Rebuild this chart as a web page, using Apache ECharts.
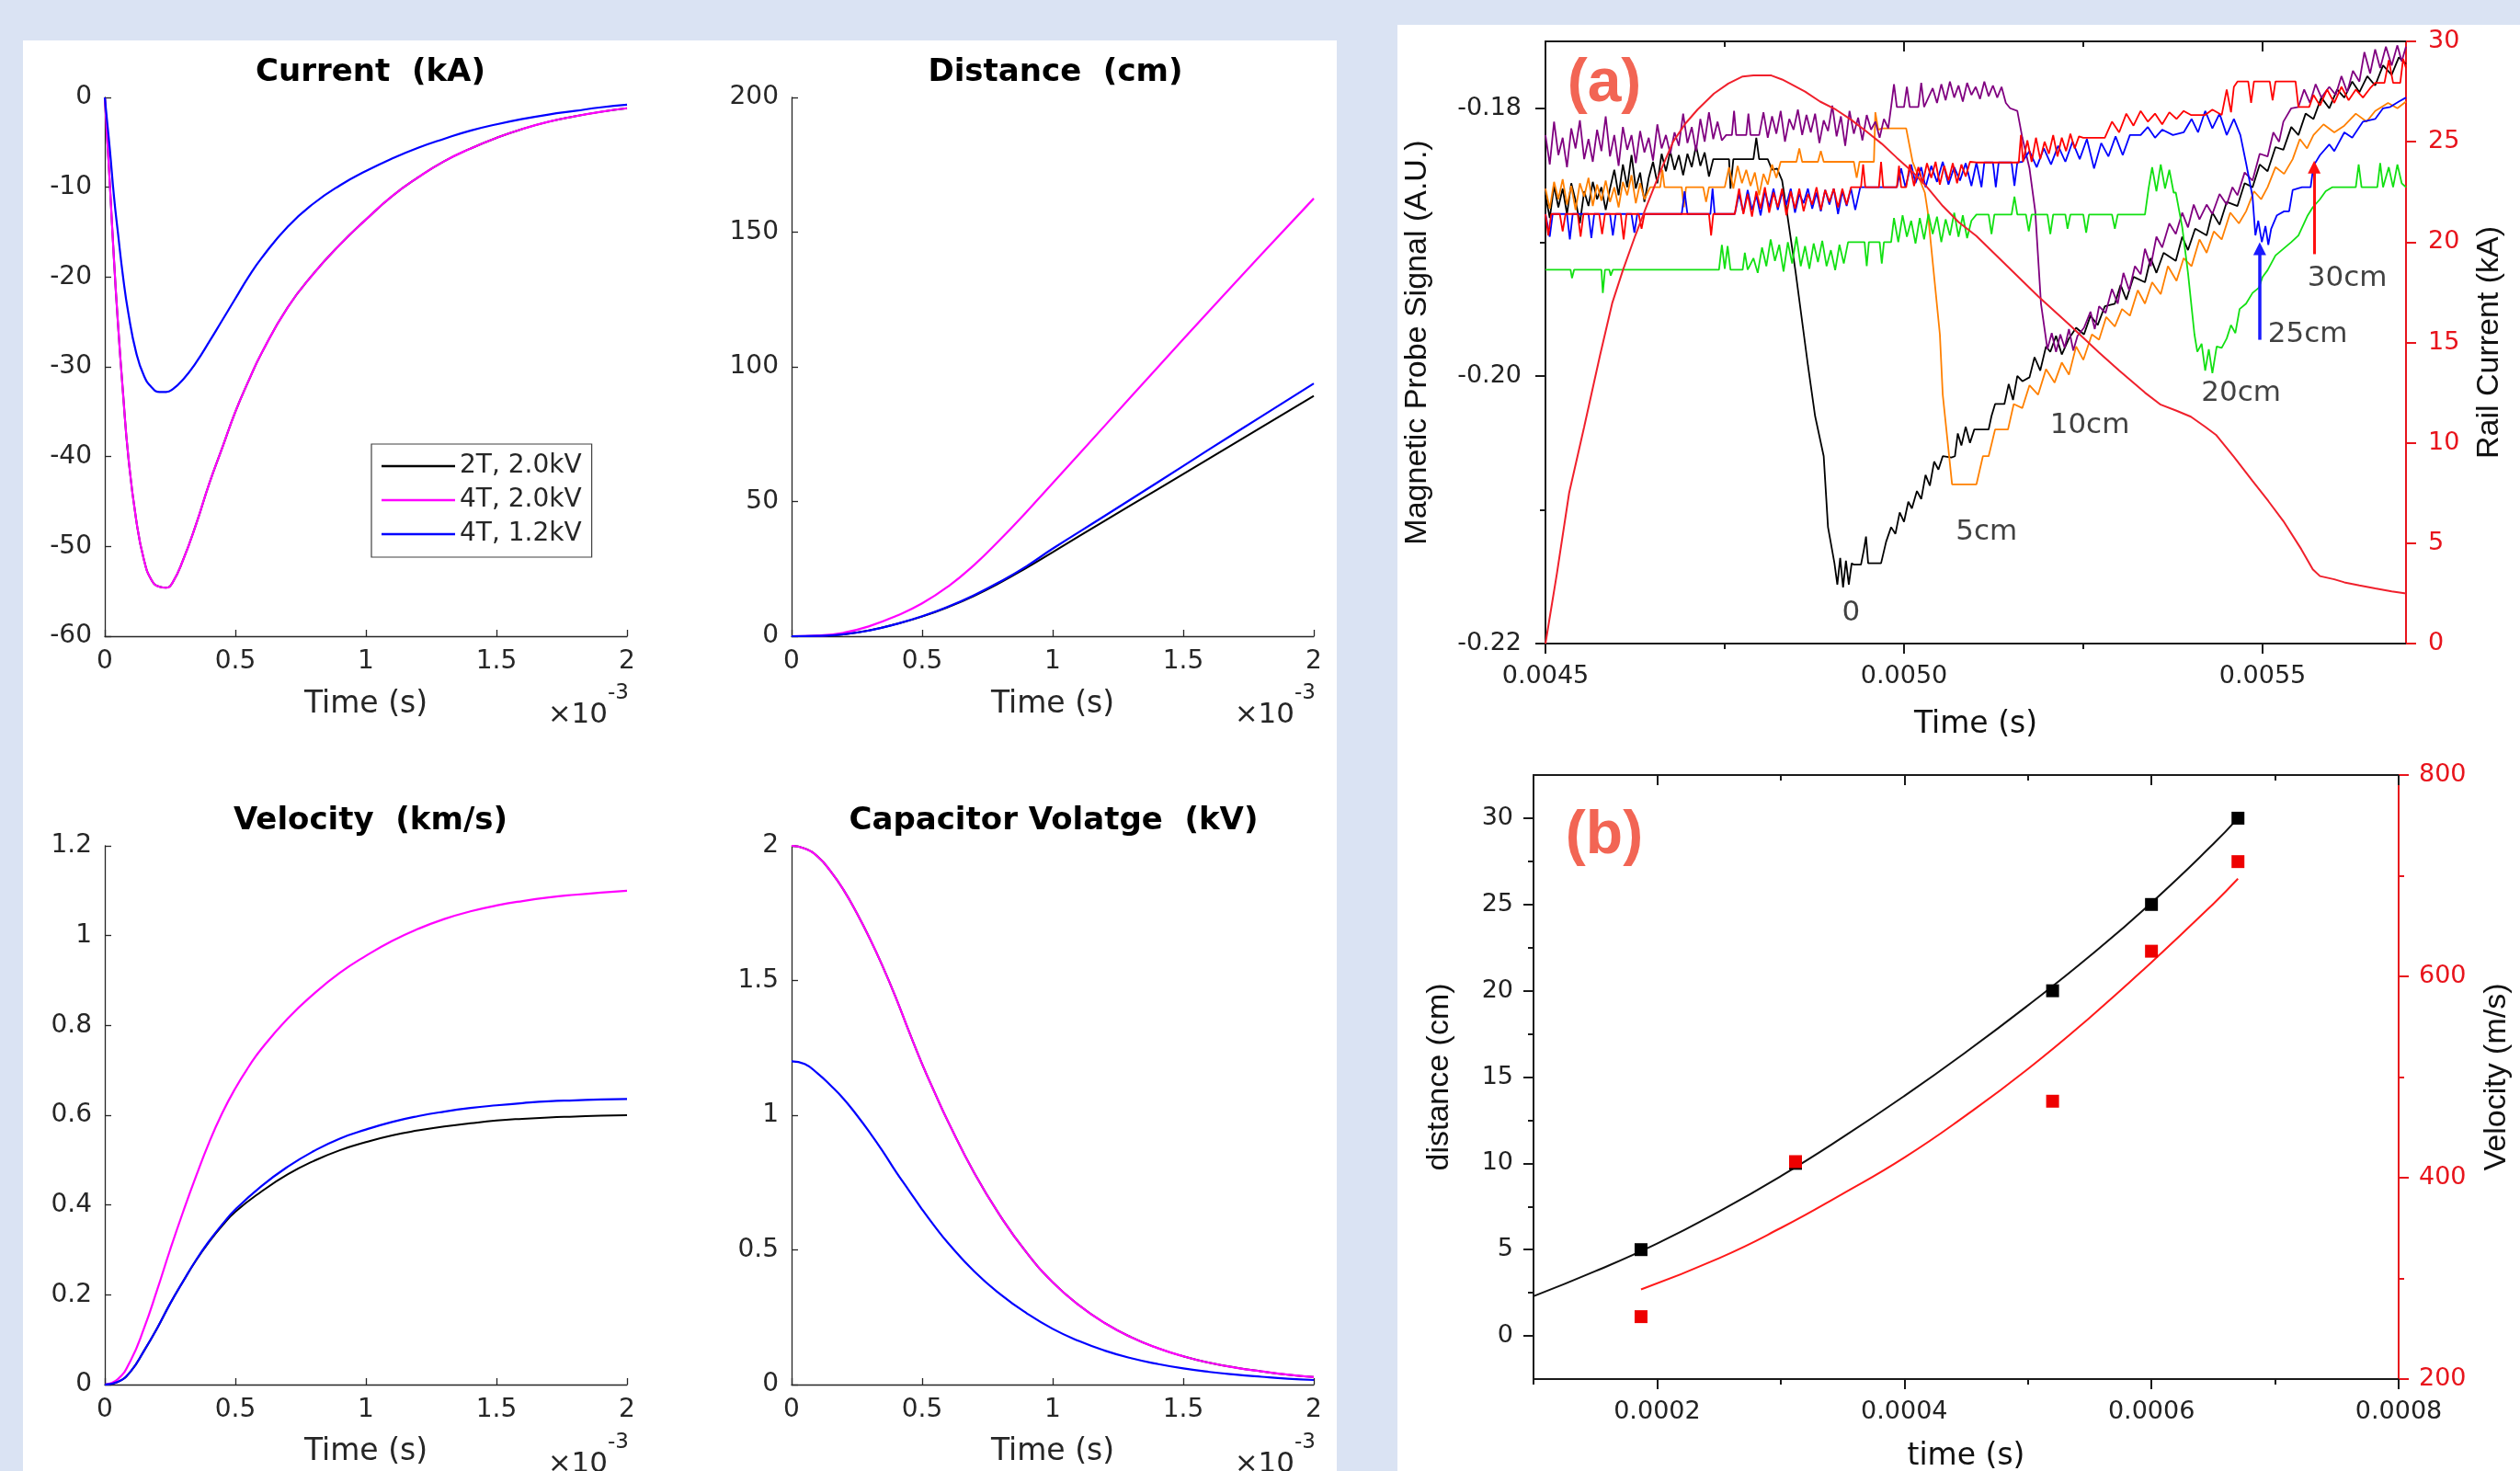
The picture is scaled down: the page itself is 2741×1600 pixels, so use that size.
<!DOCTYPE html>
<html><head><meta charset="utf-8">
<script src="https://cdn.jsdelivr.net/npm/echarts@6/dist/echarts.min.js"></script>
<style>html,body{margin:0;padding:0;background:#dae3f3;}#c{width:2741px;height:1600px;}</style>
</head><body><div id="c"></div>
<script>
// ---------------- MATLAB panels (time in ms, axis shows x10^-3 s) ----------------
const seriesNames = ['2T, 2.0kV', '4T, 2.0kV', '4T, 1.2kV'];
const mlTimeRange = [0, 2, 0.5];
const currentRange = [-60, 0, 10];
const distanceRange = [0, 200, 50];
const velocityRange = [0, 1.2, 0.2];
const voltageRange = [0, 2, 0.5];

const current4T20 = [[0,0],[0.01,-5],[0.02,-10],[0.035,-18],[0.05,-25],[0.07,-33],[0.09,-40],[0.12,-47],[0.15,-51.5],[0.18,-53.8],[0.21,-54.5],[0.235,-54.6],[0.26,-54],[0.3,-51.5],[0.35,-47.5],[0.4,-43],[0.45,-39],[0.5,-35],[0.55,-31.6],[0.6,-28.5],[0.7,-23.4],[0.8,-19.6],[0.9,-16.4],[1.0,-13.6],[1.1,-11.0],[1.2,-8.9],[1.3,-7.1],[1.4,-5.7],[1.5,-4.5],[1.6,-3.5],[1.7,-2.7],[1.8,-2.1],[1.9,-1.6],[2.0,-1.2]];
const current2T20 = [[0,0],[0.01,-5],[0.02,-10],[0.035,-18],[0.05,-25],[0.07,-33],[0.09,-40],[0.12,-47],[0.15,-51.5],[0.18,-53.8],[0.21,-54.5],[0.235,-54.6],[0.26,-54],[0.3,-51.5],[0.35,-47.5],[0.4,-43],[0.45,-39],[0.5,-35],[0.55,-31.6],[0.6,-28.5],[0.7,-23.4],[0.8,-19.6],[0.9,-16.4],[1.0,-13.6],[1.1,-11.0],[1.2,-8.9],[1.3,-7.1],[1.4,-5.7],[1.5,-4.5],[1.6,-3.5],[1.7,-2.7],[1.8,-2.1],[1.9,-1.6],[2.0,-1.2]];
const current4T12 = [[0,0],[0.01,-3],[0.02,-6],[0.035,-11],[0.05,-15],[0.07,-20],[0.09,-24],[0.12,-28.4],[0.15,-31],[0.18,-32.3],[0.21,-32.8],[0.235,-32.8],[0.26,-32.5],[0.3,-31.4],[0.35,-29.5],[0.4,-27.2],[0.45,-24.8],[0.5,-22.4],[0.55,-20.0],[0.6,-17.9],[0.7,-14.4],[0.8,-11.8],[0.9,-9.8],[1.0,-8.2],[1.1,-6.8],[1.2,-5.6],[1.3,-4.6],[1.4,-3.7],[1.5,-3.0],[1.6,-2.4],[1.7,-1.9],[1.8,-1.5],[1.9,-1.1],[2.0,-0.8]];

const distance2T20 = [[0,0],[0.1,0.1],[0.2,0.7],[0.3,2.2],[0.4,4.5],[0.5,7.3],[0.6,10.8],[0.7,15.0],[0.8,19.9],[0.9,25.4],[1.0,31.2],[1.2,42.9],[1.4,54.4],[1.6,66.0],[1.8,77.6],[2.0,89.2]];
const distance4T20 = [[0,0],[0.1,0.2],[0.2,1.3],[0.3,3.8],[0.4,7.5],[0.5,12.2],[0.6,18.5],[0.7,26.5],[0.8,36],[0.9,46.2],[1.0,56.8],[1.2,78.2],[1.4,99.6],[1.6,120.8],[1.8,141.8],[2.0,162.5]];
const distance4T12 = [[0,0],[0.1,0.1],[0.2,0.7],[0.3,2.2],[0.4,4.5],[0.5,7.4],[0.6,11.0],[0.7,15.3],[0.8,20.3],[0.9,26.0],[1.0,32.5],[1.2,44.7],[1.4,57.0],[1.6,69.4],[1.8,81.6],[2.0,93.8]];

const velocity2T20 = [[0,0],[0.05,0.006],[0.1,0.03],[0.15,0.075],[0.2,0.125],[0.25,0.18],[0.3,0.23],[0.35,0.277],[0.4,0.318],[0.45,0.354],[0.5,0.385],[0.6,0.43],[0.7,0.468],[0.8,0.498],[0.9,0.522],[1.0,0.54],[1.1,0.555],[1.2,0.566],[1.3,0.575],[1.4,0.582],[1.5,0.588],[1.6,0.592],[1.7,0.595],[1.8,0.597],[1.9,0.599],[2.0,0.6]];
const velocity4T20 = [[0,0],[0.05,0.012],[0.1,0.055],[0.15,0.125],[0.2,0.21],[0.25,0.3],[0.3,0.385],[0.35,0.465],[0.4,0.54],[0.45,0.605],[0.5,0.66],[0.55,0.707],[0.6,0.748],[0.7,0.815],[0.8,0.87],[0.9,0.917],[1.0,0.955],[1.1,0.988],[1.2,1.015],[1.3,1.037],[1.4,1.054],[1.5,1.067],[1.6,1.077],[1.7,1.085],[1.8,1.091],[1.9,1.096],[2.0,1.1]];
const velocity4T12 = [[0,0],[0.05,0.006],[0.1,0.03],[0.15,0.075],[0.2,0.125],[0.25,0.18],[0.3,0.23],[0.35,0.278],[0.4,0.32],[0.45,0.357],[0.5,0.39],[0.6,0.442],[0.7,0.485],[0.8,0.52],[0.9,0.548],[1.0,0.568],[1.1,0.585],[1.2,0.598],[1.3,0.608],[1.4,0.616],[1.5,0.622],[1.6,0.627],[1.7,0.631],[1.8,0.633],[1.9,0.635],[2.0,0.636]];

const voltage2T20 = [[0,2],[0.05,1.99],[0.1,1.96],[0.15,1.905],[0.2,1.835],[0.25,1.75],[0.3,1.655],[0.35,1.55],[0.4,1.435],[0.45,1.31],[0.5,1.19],[0.55,1.08],[0.6,0.975],[0.7,0.785],[0.8,0.625],[0.9,0.49],[1.0,0.38],[1.1,0.295],[1.2,0.228],[1.3,0.176],[1.4,0.136],[1.5,0.105],[1.6,0.081],[1.7,0.063],[1.8,0.049],[1.9,0.037],[2.0,0.028]];
const voltage4T20 = [[0,2],[0.05,1.99],[0.1,1.96],[0.15,1.905],[0.2,1.835],[0.25,1.75],[0.3,1.655],[0.35,1.55],[0.4,1.435],[0.45,1.31],[0.5,1.19],[0.55,1.08],[0.6,0.975],[0.7,0.785],[0.8,0.625],[0.9,0.49],[1.0,0.38],[1.1,0.295],[1.2,0.228],[1.3,0.176],[1.4,0.136],[1.5,0.105],[1.6,0.081],[1.7,0.063],[1.8,0.049],[1.9,0.037],[2.0,0.028]];
const voltage4T12 = [[0,1.2],[0.05,1.19],[0.1,1.155],[0.15,1.11],[0.2,1.06],[0.25,1.0],[0.3,0.935],[0.35,0.865],[0.4,0.79],[0.45,0.72],[0.5,0.65],[0.55,0.585],[0.6,0.525],[0.7,0.42],[0.8,0.335],[0.9,0.265],[1.0,0.207],[1.1,0.162],[1.2,0.126],[1.3,0.098],[1.4,0.077],[1.5,0.06],[1.6,0.047],[1.7,0.037],[1.8,0.029],[1.9,0.022],[2.0,0.017]];

// ---------------- Panel (a): [time in microseconds, probe signal in 1e-3 A.U.] ----------------
const aTimeTicks = [0.0045, 0.0050, 0.0055];
const aTimeMinor = [0.00475, 0.00525];
const aSignalTicks = [-0.22, -0.20, -0.18];
const aSignalMinor = [-0.21, -0.19];
const aCurrentTicks = [0, 5, 10, 15, 20, 25, 30];

const probePurple = [[4500,-182.0],[4506,-184.2],[4512,-181.0],[4518,-183.5],[4524,-182.2],[4530,-184.4],[4536,-181.5],[4542,-183.0],[4548,-180.9],[4554,-183.8],[4560,-182.3],[4566,-184.0],[4572,-181.6],[4578,-183.2],[4584,-180.6],[4590,-183.6],[4596,-182.0],[4602,-184.3],[4608,-181.4],[4614,-183.1],[4620,-182.0],[4626,-184.1],[4632,-181.7],[4638,-183.3],[4644,-182.2],[4650,-183.9],[4656,-181.2],[4662,-183.0],[4668,-182.0],[4674,-183.4],[4680,-181.8],[4686,-182.8],[4692,-180.4],[4698,-182.6],[4704,-181.4],[4710,-183.2],[4716,-180.8],[4722,-182.5],[4728,-180.3],[4734,-182.3],[4740,-181.0],[4746,-182.4],[4752,-182.0],[4760,-182.0],[4763,-180.2],[4766,-182.0],[4780,-182.0],[4783,-180.4],[4786,-182.0],[4798,-182.0],[4804,-180.3],[4810,-182.2],[4816,-180.6],[4822,-181.9],[4828,-180.2],[4834,-182.5],[4840,-180.8],[4846,-181.6],[4852,-180.1],[4858,-182.0],[4864,-180.5],[4870,-181.8],[4876,-180.4],[4882,-182.6],[4888,-180.9],[4894,-181.7],[4900,-179.8],[4906,-182.1],[4912,-180.6],[4918,-182.8],[4924,-180.2],[4930,-181.9],[4936,-180.7],[4942,-182.4],[4948,-180.5],[4954,-181.6],[4960,-181.0],[4966,-182.2],[4972,-180.8],[4978,-181.5],[4982,-179.9],[4986,-178.2],[4990,-179.9],[5000,-179.9],[5004,-178.4],[5008,-179.9],[5020,-179.9],[5024,-178.1],[5028,-179.9],[5040,-178.5],[5046,-179.6],[5052,-178.2],[5058,-179.4],[5064,-178.0],[5070,-179.2],[5076,-178.3],[5082,-179.5],[5088,-178.1],[5094,-179.0],[5100,-178.4],[5106,-179.3],[5112,-178.0],[5118,-179.1],[5124,-178.3],[5130,-179.2],[5136,-178.4],[5142,-179.6],[5148,-180.0],[5158,-180.2],[5165,-182.2],[5175,-184.5],[5183,-187.7],[5191,-194.6],[5200,-198.0],[5206,-196.8],[5212,-198.2],[5218,-196.9],[5224,-197.9],[5230,-196.5],[5236,-198.1],[5242,-197.0],[5251,-196.4],[5260,-195.2],[5266,-196.5],[5272,-194.8],[5281,-195.3],[5290,-193.5],[5298,-194.6],[5306,-192.3],[5314,-193.6],[5322,-191.8],[5330,-192.4],[5336,-190.5],[5344,-191.8],[5352,-189.6],[5360,-190.4],[5370,-188.6],[5379,-189.4],[5388,-187.8],[5396,-188.9],[5404,-187.2],[5412,-188.3],[5422,-187.2],[5430,-187.9],[5440,-186.4],[5450,-187.2],[5458,-185.9],[5465,-186.5],[5475,-184.8],[5486,-185.4],[5496,-183.4],[5507,-183.6],[5515,-181.8],[5523,-182.5],[5529,-181.0],[5540,-180.0],[5550,-179.9],[5558,-178.6],[5566,-179.6],[5574,-178.2],[5582,-179.2],[5593,-178.4],[5602,-179.0],[5610,-177.6],[5618,-178.8],[5626,-177.2],[5635,-178.0],[5642,-175.8],[5650,-177.4],[5657,-175.6],[5664,-177.0],[5672,-175.4],[5680,-176.8],[5688,-175.3],[5694,-176.5],[5700,-175.4]];

const probeBlack = [[4500,-186.5],[4506,-188.2],[4512,-185.8],[4518,-187.4],[4524,-186.0],[4530,-187.9],[4536,-185.6],[4542,-186.9],[4548,-188.6],[4554,-186.2],[4560,-187.3],[4566,-185.5],[4572,-186.8],[4578,-185.9],[4584,-187.6],[4590,-186.0],[4596,-184.6],[4602,-186.5],[4608,-184.2],[4614,-185.9],[4620,-183.5],[4626,-186.0],[4632,-184.8],[4638,-187.0],[4644,-185.2],[4650,-184.0],[4656,-185.6],[4662,-183.4],[4668,-184.7],[4674,-183.2],[4680,-184.6],[4686,-183.5],[4692,-185.0],[4698,-183.4],[4704,-184.4],[4710,-182.8],[4716,-184.3],[4722,-183.3],[4728,-185.1],[4734,-183.8],[4738,-183.8],[4756,-183.8],[4758,-186.0],[4762,-183.8],[4790,-183.8],[4794,-182.2],[4798,-183.8],[4810,-183.8],[4816,-184.6],[4823,-184.5],[4830,-185.4],[4836,-187.5],[4849,-192.3],[4866,-199.2],[4876,-203.0],[4888,-206.0],[4894,-211.3],[4903,-214.0],[4907,-215.6],[4911,-213.6],[4915,-215.8],[4919,-213.8],[4923,-215.6],[4927,-214.0],[4930,-214.1],[4940,-214.1],[4944,-213.0],[4947,-212.0],[4950,-214.0],[4968,-214.0],[4975,-212.4],[4982,-211.3],[4988,-211.8],[4994,-210.2],[5000,-210.9],[5006,-209.4],[5011,-209.9],[5018,-208.6],[5024,-209.2],[5030,-207.4],[5036,-208.2],[5042,-206.4],[5048,-207.0],[5054,-206.0],[5066,-206.1],[5071,-206.0],[5075,-204.3],[5080,-205.2],[5086,-203.8],[5092,-205.0],[5098,-204.0],[5118,-204.0],[5122,-203.0],[5127,-202.1],[5140,-202.1],[5146,-200.6],[5152,-201.8],[5158,-200.0],[5165,-200.4],[5175,-200.1],[5182,-198.6],[5190,-199.6],[5198,-197.8],[5204,-198.2],[5212,-197.0],[5220,-198.4],[5230,-197.2],[5240,-196.4],[5251,-196.9],[5260,-195.5],[5270,-196.2],[5280,-194.8],[5294,-194.6],[5302,-193.2],[5310,-194.3],[5320,-192.6],[5336,-193.0],[5344,-191.2],[5352,-192.3],[5362,-190.8],[5379,-191.4],[5388,-189.6],[5396,-190.6],[5406,-189.0],[5422,-189.5],[5430,-187.8],[5440,-188.7],[5450,-187.0],[5465,-187.3],[5475,-185.6],[5486,-185.9],[5496,-184.2],[5507,-184.7],[5518,-182.9],[5529,-183.1],[5540,-181.4],[5550,-182.0],[5560,-180.4],[5571,-180.8],[5582,-179.2],[5593,-180.0],[5604,-178.6],[5614,-179.2],[5625,-178.0],[5635,-178.8],[5646,-177.6],[5657,-178.3],[5668,-176.8],[5680,-177.5],[5690,-176.2],[5700,-176.7]];

const probeOrange = [[4500,-186.0],[4506,-187.5],[4512,-185.5],[4518,-186.8],[4524,-185.3],[4530,-187.2],[4536,-185.8],[4542,-187.6],[4548,-185.6],[4554,-186.6],[4560,-185.2],[4566,-187.3],[4572,-185.7],[4578,-186.9],[4584,-185.4],[4590,-187.0],[4596,-185.9],[4602,-187.4],[4608,-185.5],[4614,-186.5],[4620,-185.0],[4626,-187.1],[4632,-185.6],[4638,-186.8],[4646,-185.9],[4660,-185.9],[4663,-184.6],[4666,-185.9],[4690,-185.9],[4693,-187.4],[4696,-185.9],[4720,-185.9],[4724,-187.0],[4728,-185.9],[4750,-185.9],[4756,-184.4],[4762,-186.0],[4768,-184.3],[4774,-185.6],[4780,-184.6],[4786,-185.8],[4792,-184.8],[4798,-186.5],[4804,-184.9],[4810,-185.7],[4816,-184.2],[4822,-185.2],[4828,-184.0],[4850,-184.0],[4854,-183.0],[4858,-184.0],[4880,-184.0],[4884,-183.2],[4888,-184.0],[4930,-184.0],[4934,-185.2],[4938,-184.0],[4958,-184.0],[4960,-180.3],[4964,-181.6],[4969,-181.5],[5003,-181.5],[5012,-184.0],[5029,-186.3],[5033,-187.7],[5050,-196.9],[5054,-201.4],[5067,-208.1],[5101,-208.1],[5110,-206.0],[5118,-206.0],[5127,-204.0],[5145,-204.0],[5153,-202.1],[5165,-202.4],[5175,-200.7],[5187,-201.4],[5198,-199.5],[5210,-200.5],[5220,-199.0],[5230,-199.9],[5240,-197.8],[5250,-198.8],[5262,-196.9],[5272,-197.3],[5282,-195.6],[5294,-196.3],[5304,-195.0],[5315,-195.5],[5326,-193.6],[5336,-194.6],[5346,-193.0],[5358,-193.9],[5368,-191.8],[5380,-192.9],[5390,-191.2],[5401,-191.8],[5412,-189.8],[5422,-190.8],[5432,-189.2],[5443,-189.8],[5455,-187.8],[5467,-188.6],[5477,-187.7],[5488,-186.2],[5498,-186.8],[5507,-185.9],[5518,-184.4],[5530,-184.9],[5542,-183.8],[5552,-182.3],[5562,-183.0],[5571,-182.0],[5585,-181.2],[5600,-181.8],[5614,-181.3],[5630,-180.4],[5645,-181.0],[5657,-180.2],[5675,-179.6],[5688,-180.0],[5700,-179.5]];

const probeBlue = [[4500,-187.9],[4506,-189.6],[4510,-187.9],[4530,-187.9],[4534,-189.8],[4538,-187.9],[4560,-187.9],[4564,-189.7],[4568,-187.9],[4590,-187.9],[4594,-189.5],[4598,-187.9],[4620,-187.9],[4624,-189.3],[4628,-187.9],[4690,-187.9],[4694,-186.2],[4698,-187.9],[4730,-187.9],[4733,-186.0],[4736,-187.9],[4764,-187.9],[4770,-186.4],[4776,-187.8],[4782,-186.1],[4788,-187.6],[4794,-186.5],[4800,-188.0],[4806,-186.2],[4812,-187.4],[4818,-186.0],[4824,-187.6],[4830,-186.3],[4836,-187.2],[4842,-186.0],[4848,-187.8],[4854,-186.4],[4860,-187.1],[4866,-186.0],[4872,-187.5],[4878,-186.3],[4884,-187.7],[4890,-186.1],[4896,-187.2],[4902,-186.0],[4908,-187.9],[4914,-186.2],[4920,-187.3],[4926,-186.0],[4932,-187.6],[4939,-185.9],[4990,-185.9],[4996,-184.5],[5002,-185.9],[5010,-184.2],[5016,-185.6],[5024,-184.4],[5030,-185.9],[5038,-184.3],[5046,-185.5],[5054,-184.0],[5062,-185.7],[5070,-184.4],[5078,-185.4],[5086,-184.1],[5094,-185.8],[5101,-184.05],[5108,-185.9],[5112,-184.05],[5124,-184.05],[5128,-185.9],[5132,-184.05],[5150,-184.05],[5154,-185.8],[5158,-184.05],[5165,-184.0],[5175,-183.2],[5185,-184.4],[5195,-183.0],[5205,-184.2],[5215,-182.8],[5225,-184.0],[5235,-182.5],[5245,-183.8],[5255,-182.3],[5265,-184.5],[5275,-182.6],[5285,-183.6],[5295,-182.1],[5305,-183.5],[5315,-182.0],[5330,-182.0],[5340,-181.4],[5350,-182.2],[5360,-181.6],[5375,-182.0],[5390,-181.8],[5401,-180.8],[5410,-181.8],[5420,-180.2],[5430,-181.5],[5440,-180.4],[5450,-182.0],[5460,-180.8],[5469,-182.0],[5477,-184.1],[5486,-186.6],[5490,-189.5],[5494,-188.4],[5499,-190.0],[5504,-188.8],[5508,-190.2],[5512,-189.0],[5520,-188.0],[5530,-187.7],[5537,-187.7],[5542,-186.1],[5555,-185.9],[5567,-185.9],[5571,-184.3],[5580,-183.5],[5593,-182.7],[5600,-183.2],[5614,-181.8],[5625,-182.2],[5640,-181.0],[5657,-180.8],[5668,-180.0],[5678,-179.9],[5690,-179.5],[5700,-179.2]];

const probeRed = [[4500,-187.9],[4504,-189.5],[4508,-187.9],[4520,-187.9],[4524,-189.2],[4528,-187.9],[4545,-187.9],[4549,-189.6],[4553,-187.9],[4575,-187.9],[4579,-189.4],[4583,-187.9],[4605,-187.9],[4609,-189.8],[4613,-187.9],[4630,-187.9],[4634,-189.0],[4638,-187.9],[4728,-187.9],[4731,-189.5],[4734,-187.9],[4764,-187.9],[4770,-186.0],[4776,-187.9],[4782,-186.4],[4788,-188.1],[4794,-186.2],[4800,-187.5],[4806,-185.9],[4812,-187.8],[4818,-186.3],[4824,-187.4],[4830,-186.0],[4836,-188.0],[4842,-186.2],[4848,-187.5],[4854,-186.0],[4860,-187.7],[4866,-186.4],[4872,-187.2],[4878,-185.9],[4884,-187.6],[4890,-186.1],[4896,-187.0],[4902,-186.0],[4908,-187.4],[4914,-186.0],[4920,-187.2],[4926,-185.9],[4940,-185.9],[4943,-184.2],[4946,-185.9],[4965,-185.9],[4968,-184.0],[4971,-185.9],[4990,-185.9],[4993,-184.3],[4996,-185.9],[5003,-185.9],[5008,-184.2],[5014,-185.8],[5020,-184.4],[5026,-185.6],[5032,-184.1],[5038,-185.2],[5044,-184.0],[5050,-185.7],[5056,-184.3],[5062,-185.4],[5068,-184.1],[5074,-185.6],[5080,-184.2],[5086,-185.1],[5092,-184.0],[5101,-184.05],[5160,-184.05],[5163,-182.0],[5166,-184.0],[5172,-182.4],[5178,-184.0],[5184,-182.2],[5190,-183.8],[5196,-182.5],[5202,-183.4],[5208,-182.0],[5214,-183.6],[5220,-182.2],[5226,-183.2],[5232,-181.9],[5238,-183.0],[5244,-182.1],[5250,-182.2],[5280,-182.2],[5290,-181.0],[5300,-181.8],[5310,-180.4],[5320,-181.3],[5330,-180.2],[5340,-181.0],[5350,-180.4],[5360,-181.2],[5370,-180.3],[5380,-180.8],[5390,-180.2],[5400,-180.5],[5420,-180.5],[5430,-180.1],[5443,-180.5],[5450,-178.6],[5456,-180.3],[5460,-178.4],[5465,-178.0],[5480,-178.0],[5484,-179.6],[5488,-178.0],[5510,-178.0],[5514,-179.4],[5518,-178.0],[5546,-178.0],[5550,-179.9],[5565,-179.9],[5571,-179.0],[5580,-179.8],[5590,-178.6],[5600,-179.6],[5610,-178.4],[5620,-179.4],[5630,-178.6],[5640,-179.2],[5650,-178.5],[5657,-178.1],[5670,-178.1],[5676,-176.4],[5682,-178.1],[5692,-178.1],[5696,-176.3],[5700,-177.0]];

const probeGreen = [[4500,-192.06],[4535,-192.06],[4537,-192.7],[4540,-192.06],[4578,-192.06],[4580,-193.8],[4583,-192.06],[4589,-192.06],[4591,-192.5],[4594,-192.06],[4742,-192.06],[4746,-190.2],[4750,-192.0],[4754,-190.3],[4758,-192.06],[4775,-192.06],[4778,-190.8],[4782,-192.06],[4790,-191.2],[4796,-192.3],[4802,-190.4],[4808,-191.8],[4814,-189.8],[4820,-191.4],[4826,-190.2],[4832,-192.2],[4838,-190.0],[4844,-191.6],[4850,-189.6],[4856,-191.8],[4862,-190.3],[4868,-192.0],[4874,-190.1],[4880,-191.5],[4886,-189.9],[4892,-191.8],[4898,-190.6],[4904,-192.1],[4910,-190.2],[4916,-191.6],[4922,-190.0],[4926,-190.0],[4945,-190.0],[4948,-191.8],[4951,-190.0],[4966,-190.0],[4969,-191.6],[4972,-190.0],[4982,-190.0],[4986,-188.2],[4992,-190.0],[4998,-188.0],[5004,-189.6],[5010,-188.4],[5016,-190.1],[5022,-188.2],[5028,-189.8],[5034,-187.9],[5040,-189.4],[5046,-188.1],[5052,-190.0],[5058,-188.3],[5064,-189.5],[5070,-187.8],[5076,-189.6],[5082,-188.0],[5088,-189.7],[5094,-188.4],[5101,-187.94],[5118,-187.94],[5122,-189.4],[5126,-187.94],[5150,-187.94],[5154,-186.6],[5158,-187.94],[5170,-187.94],[5174,-189.2],[5178,-187.94],[5200,-187.94],[5204,-189.4],[5208,-187.94],[5225,-187.94],[5228,-189.0],[5232,-187.94],[5250,-187.94],[5254,-189.3],[5258,-187.94],[5290,-187.94],[5294,-189.0],[5298,-187.94],[5336,-187.94],[5341,-186.0],[5346,-184.4],[5352,-186.2],[5358,-184.2],[5364,-186.0],[5370,-184.6],[5376,-186.3],[5379,-186.3],[5388,-188.9],[5396,-192.3],[5405,-196.9],[5409,-198.2],[5415,-197.6],[5420,-199.6],[5425,-198.0],[5430,-199.8],[5436,-197.8],[5443,-197.9],[5450,-197.2],[5456,-196.2],[5462,-196.8],[5468,-195.0],[5477,-194.6],[5486,-193.8],[5495,-193.4],[5500,-192.6],[5507,-192.1],[5518,-191.0],[5529,-190.5],[5540,-190.0],[5550,-189.5],[5563,-188.0],[5570,-187.4],[5580,-186.8],[5588,-186.2],[5597,-185.9],[5630,-185.9],[5634,-184.2],[5638,-185.9],[5660,-185.9],[5664,-184.1],[5668,-185.9],[5676,-184.4],[5682,-185.9],[5688,-184.2],[5694,-185.6],[5700,-185.9]];

// rail current: [time in microseconds, kA]
const railCurrent = [[4500,0],[4516,3.5],[4533,7.5],[4554,10.8],[4576,14.35],[4593,16.95],[4608,18.6],[4625,20.3],[4640,21.7],[4660,23.5],[4678,25.0],[4695,25.9],[4712,26.6],[4735,27.4],[4755,27.9],[4775,28.25],[4790,28.3],[4815,28.3],[4830,28.1],[4841,27.9],[4862,27.5],[4883,27.0],[4905,26.6],[4926,26.1],[4948,25.5],[4969,24.9],[4990,24.2],[5012,23.5],[5033,22.7],[5054,21.8],[5076,21.0],[5101,20.3],[5144,18.8],[5187,17.3],[5230,15.9],[5272,14.5],[5300,13.6],[5336,12.5],[5358,11.9],[5380,11.6],[5400,11.3],[5420,10.8],[5435,10.4],[5460,9.3],[5486,8.1],[5508,7.1],[5529,6.1],[5554,4.7],[5570,3.7],[5580,3.36],[5600,3.2],[5614,3.05],[5635,2.9],[5657,2.75],[5680,2.6],[5700,2.5]];

// annotations of (a): [text, time us, signal 1e-3]
const aLabels = [['0',4926,-217.7],['5cm',5115,-211.7],['10cm',5259,-203.7],['20cm',5470,-201.3],['25cm',5563,-196.9],['30cm',5618,-192.7]];
const aArrowBlue = [[5496,-197.3],[5496,-190.5]];
const aArrowRed = [[5572,-190.9],[5572,-184.4]];

// ---------------- Panel (b) ----------------
const bTimeTicks = [0.0002, 0.0004, 0.0006, 0.0008];
const bTimeMinor = [0.0001, 0.0003, 0.0005, 0.0007];
const bDistTicks = [0, 5, 10, 15, 20, 25, 30];
const bDistMinor = [2.5, 7.5, 12.5, 17.5, 22.5, 27.5];
const bVelTicks = [200, 400, 600, 800];
const bVelMinor = [300, 500, 700];

const bPointTime = [0.000187, 0.000312, 0.00052, 0.0006, 0.00067];
const bPointDist = [5, 10, 20, 25, 30];
const bPointVel = [262, 416, 476, 625, 714];
const bDistFitTime = [0.0001, 0.00015, 0.0002, 0.00025, 0.0003, 0.00035, 0.0004, 0.00045, 0.0005, 0.00055, 0.0006, 0.00065, 0.00067];
const bDistFit = [2.3, 3.75, 5.35, 7.2, 9.25, 11.5, 13.9, 16.45, 19.15, 22.0, 25.1, 28.5, 30.0];
const bVelFitTime = [0.000187, 0.00025, 0.0003, 0.00035, 0.0004, 0.00045, 0.0005, 0.00055, 0.0006, 0.00065, 0.00067];
const bVelFit = [289, 320, 350, 384, 420, 462, 508, 559, 614, 672, 697];

// ---------------- styling ----------------
const FH = 'DejaVu Sans';
const FV = 'Liberation Sans';
const ML = '#262626';
const AX = '#1a1a1a';
const RED = '#e8141c';
const COLORS = {black: '#000000', magenta: '#ff00ff', blue: '#0000ff'};

function mlX(g, gap) {
  return {type: 'value', gridIndex: g, position: 'bottom', min: mlTimeRange[0], max: mlTimeRange[1], interval: mlTimeRange[2],
    splitLine: {show: false},
    axisLine: {show: true, onZero: false, lineStyle: {color: ML, width: 1.3}},
    axisTick: {show: true, inside: true, length: 7, lineStyle: {color: ML, width: 1.3}},
    axisLabel: {fontFamily: FH, fontSize: 28, color: ML, margin: 14},
    name: 'Time (s)', nameLocation: 'middle', nameGap: gap,
    nameTextStyle: {fontFamily: FH, fontSize: 33, color: ML}};
}
function mlY(g, r) {
  return {type: 'value', gridIndex: g, position: 'left', min: r[0], max: r[1], interval: r[2],
    splitLine: {show: false},
    axisLine: {show: true, onZero: false, lineStyle: {color: ML, width: 1.3}},
    axisTick: {show: true, inside: true, length: 7, lineStyle: {color: ML, width: 1.3}},
    axisLabel: {fontFamily: FH, fontSize: 28, color: ML, margin: 14}};
}
function oAxis(o) {
  const base = {type: 'value', splitLine: {show: false}, axisLine: {show: false, onZero: false},
    axisLabel: {show: false}, axisTick: {show: false}};
  return Object.assign(base, o);
}
function ticks(vals, len, inside, color) {
  return {show: true, customValues: vals, length: len, inside: inside, lineStyle: {color: color, width: 2}};
}
function lineAx(color) { return {show: true, onZero: false, lineStyle: {color: color, width: 2}}; }

const xAxis = [
  mlX(0, 58), mlX(1, 58), mlX(2, 57), mlX(3, 57),
  oAxis({gridIndex: 4, position: 'bottom', min: 0.0045, max: 0.0057, axisLine: lineAx(AX),
    axisTick: ticks(aTimeTicks, 11, false, AX),
    axisLabel: {show: true, customValues: aTimeTicks, formatter: v => v.toFixed(4), fontFamily: FH, fontSize: 27, color: '#222', margin: 22},
    name: 'Time (s)', nameLocation: 'middle', nameGap: 72, nameTextStyle: {fontFamily: FH, fontSize: 33, color: '#111'}}),
  oAxis({gridIndex: 4, position: 'bottom', min: 0.0045, max: 0.0057, axisTick: ticks(aTimeMinor, 6, false, AX)}),
  oAxis({gridIndex: 4, position: 'top', min: 0.0045, max: 0.0057, axisLine: lineAx(AX), axisTick: ticks(aTimeTicks, 11, true, AX)}),
  oAxis({gridIndex: 4, position: 'top', min: 0.0045, max: 0.0057, axisTick: ticks(aTimeMinor, 6, true, AX)}),
  oAxis({gridIndex: 5, position: 'bottom', min: 0.0001, max: 0.0008, axisLine: lineAx(AX),
    axisTick: ticks(bTimeTicks, 11, false, AX),
    axisLabel: {show: true, customValues: bTimeTicks, formatter: v => v.toFixed(4), fontFamily: FH, fontSize: 27, color: '#222', margin: 22},
    name: 'time (s)', nameLocation: 'middle', nameGap: 68, nameTextStyle: {fontFamily: FH, fontSize: 33, color: '#111'}}),
  oAxis({gridIndex: 5, position: 'bottom', min: 0.0001, max: 0.0008, axisTick: ticks(bTimeMinor, 6, false, AX)}),
  oAxis({gridIndex: 5, position: 'top', min: 0.0001, max: 0.0008, axisLine: lineAx(AX), axisTick: ticks(bTimeTicks, 11, true, AX)}),
  oAxis({gridIndex: 5, position: 'top', min: 0.0001, max: 0.0008, axisTick: ticks(bTimeMinor, 6, true, AX)})
];

const yAxis = [
  mlY(0, currentRange), mlY(1, distanceRange), mlY(2, velocityRange), mlY(3, voltageRange),
  oAxis({gridIndex: 4, position: 'left', min: -0.22, max: -0.175, axisLine: lineAx(AX),
    axisTick: ticks(aSignalTicks, 11, false, AX),
    axisLabel: {show: true, customValues: aSignalTicks, formatter: v => v.toFixed(2), fontFamily: FH, fontSize: 27, color: '#222', margin: 26},
    name: 'Magnetic Probe Signal (A.U.)', nameLocation: 'middle', nameGap: 122,
    nameTextStyle: {fontFamily: FV, fontSize: 34, color: '#111'}}),
  oAxis({gridIndex: 4, position: 'left', min: -0.22, max: -0.175, axisTick: ticks(aSignalMinor, 6, false, AX)}),
  oAxis({gridIndex: 4, position: 'right', min: 0, max: 30, axisLine: lineAx(RED),
    axisTick: ticks(aCurrentTicks, 11, false, RED),
    axisLabel: {show: true, customValues: aCurrentTicks, fontFamily: FH, fontSize: 27, color: RED, margin: 24},
    name: 'Rail Current (kA)', nameLocation: 'middle', nameGap: 74,
    nameTextStyle: {fontFamily: FV, fontSize: 34, color: '#111'}}),
  oAxis({gridIndex: 5, position: 'left', min: -2.5, max: 32.5, axisLine: lineAx(AX),
    axisTick: ticks(bDistTicks, 11, false, AX),
    axisLabel: {show: true, customValues: bDistTicks, fontFamily: FH, fontSize: 27, color: '#222', margin: 22},
    name: 'distance (cm)', nameLocation: 'middle', nameGap: 85,
    nameTextStyle: {fontFamily: FV, fontSize: 34, color: '#111'}}),
  oAxis({gridIndex: 5, position: 'left', min: -2.5, max: 32.5, axisTick: ticks(bDistMinor, 6, false, AX)}),
  oAxis({gridIndex: 5, position: 'right', min: 200, max: 800, axisLine: lineAx(RED),
    axisTick: ticks(bVelTicks, 11, false, RED),
    axisLabel: {show: true, customValues: bVelTicks, fontFamily: FH, fontSize: 27, color: RED, margin: 22},
    name: 'Velocity (m/s)', nameLocation: 'middle', nameGap: 90,
    nameTextStyle: {fontFamily: FV, fontSize: 34, color: '#111'}}),
  oAxis({gridIndex: 5, position: 'right', min: 200, max: 800, axisTick: ticks(bVelMinor, 6, false, RED)})
];

function g(left, top, width, height) {
  return {left, top, width, height, containLabel: false, outerBoundsMode: 'none', show: false};
}
const grid = [g(114, 106, 568, 586), g(861, 106, 568, 586), g(114, 920, 568, 586), g(861, 920, 568, 586),
  g(1681, 45, 936, 655), g(1668, 843, 941, 657)];

function mlLine(name, color, width, idx, data) {
  return {type: 'line', name, xAxisIndex: idx, yAxisIndex: idx, data, symbol: 'none', showSymbol: false,
    smooth: 0.5, lineStyle: {color, width}, itemStyle: {color}, z: 3};
}
const mlSets = [
  [current2T20, current4T20, current4T12],
  [distance2T20, distance4T20, distance4T12],
  [velocity2T20, velocity4T20, velocity4T12],
  [voltage2T20, voltage4T20, voltage4T12]
];
const series = [];
mlSets.forEach((set, i) => {
  series.push(mlLine(seriesNames[0], COLORS.black, 2, i, set[0]));
  series.push(mlLine(seriesNames[1], COLORS.magenta, 2.2, i, set[1]));
  series.push(mlLine(seriesNames[2], COLORS.blue, 2.2, i, set[2]));
});

const toSec = arr => arr.map(p => [p[0] / 1e6, p[1] / 1e3]);
function aLine(name, color, data, yIdx, w) {
  return {type: 'line', name, xAxisIndex: 4, yAxisIndex: yIdx, data, symbol: 'none', showSymbol: false,
    lineStyle: {color, width: w || 1.8}, itemStyle: {color}, z: 3};
}
series.push(aLine('probe black', '#000000', toSec(probeBlack), 4));
series.push(aLine('probe orange', '#ff8000', toSec(probeOrange), 4));
series.push(aLine('probe purple', '#800080', toSec(probePurple), 4));
series.push(aLine('probe green', '#12e012', toSec(probeGreen), 4));
series.push(aLine('probe blue', '#0000ff', toSec(probeBlue), 4));
series.push(aLine('probe red', '#ff0000', toSec(probeRed), 4));
series.push(aLine('rail current', '#f0202c', railCurrent.map(p => [p[0] / 1e6, p[1]]), 6, 2));
series.push({
  type: 'scatter', name: 'labels a', xAxisIndex: 4, yAxisIndex: 4, symbolSize: 1, z: 6,
  itemStyle: {color: 'rgba(0,0,0,0)'},
  data: aLabels.map(l => ({name: l[0], value: [l[1] / 1e6, l[2] / 1e3]})),
  label: {show: true, position: 'inside', formatter: '{b}', fontFamily: FH, fontSize: 31, color: '#111'},
  markLine: {
    silent: true, symbol: ['none', 'triangle'], symbolSize: 14, label: {show: false},
    data: [
      [{coord: toSec(aArrowBlue)[0], lineStyle: {color: '#1a1aff', width: 3.5, type: 'solid'}}, {coord: toSec(aArrowBlue)[1]}],
      [{coord: toSec(aArrowRed)[0], lineStyle: {color: '#ff1010', width: 3, type: 'solid'}}, {coord: toSec(aArrowRed)[1]}]
    ]
  }
});

series.push({type: 'line', name: 'dist fit', xAxisIndex: 8, yAxisIndex: 7, symbol: 'none', showSymbol: false, smooth: 0.5,
  data: bDistFitTime.map((t, i) => [t, bDistFit[i]]), lineStyle: {color: '#111', width: 2}, z: 3});
series.push({type: 'line', name: 'vel fit', xAxisIndex: 8, yAxisIndex: 9, symbol: 'none', showSymbol: false, smooth: 0.5,
  data: bVelFitTime.map((t, i) => [t, bVelFit[i]]), lineStyle: {color: '#ff1a1a', width: 2}, z: 3});
series.push({type: 'scatter', name: 'dist pts', xAxisIndex: 8, yAxisIndex: 7, symbol: 'rect', symbolSize: 14,
  data: bPointTime.map((t, i) => [t, bPointDist[i]]), itemStyle: {color: '#000', opacity: 1}, z: 4});
series.push({type: 'scatter', name: 'vel pts', xAxisIndex: 8, yAxisIndex: 9, symbol: 'rect', symbolSize: 14,
  data: bPointTime.map((t, i) => [t, bPointVel[i]]), itemStyle: {color: '#ee0000', opacity: 1}, z: 4});

function txt(text, x, y, size, weight, align, family, color) {
  return {type: 'text', x, y, z: 100,
    style: {text, fontSize: size, fontWeight: weight || 'normal', fontFamily: family || FH, fill: color || '#000',
      textAlign: align || 'center', textVerticalAlign: 'middle'}};
}
function sci(x, y) {
  return {type: 'text', x, y, z: 100,
    style: {text: '{a|\u00d710}{b|-3}', textAlign: 'right', textVerticalAlign: 'middle',
      rich: {a: {fontFamily: FH, fontSize: 31, fill: ML, color: ML, verticalAlign: 'bottom', lineHeight: 50},
             b: {fontFamily: FH, fontSize: 23, fill: ML, color: ML, verticalAlign: 'top', lineHeight: 50}}}};
}

const graphic = {elements: [
  {type: 'rect', z: -100, shape: {x: 25, y: 44, width: 1429, height: 1556}, style: {fill: '#ffffff'}},
  {type: 'rect', z: -100, shape: {x: 1520, y: 27, width: 1221, height: 1573}, style: {fill: '#ffffff'}},
  txt('Current  (kA)', 403, 79, 34, 'bold'),
  txt('Distance  (cm)', 1148, 79, 34, 'bold'),
  txt('Velocity  (km/s)', 403, 893, 34, 'bold'),
  txt('Capacitor Volatge  (kV)', 1146, 893, 34, 'bold'),
  sci(684, 768), sci(1431, 768), sci(684, 1583), sci(1431, 1583),
  txt('(a)', 1745, 92, 66, 'bold', 'center', FV, '#f26554'),
  txt('(b)', 1745, 910, 66, 'bold', 'center', FV, '#f26554')
]};

const option = {
  backgroundColor: '#dae3f3',
  animation: false,
  graphic,
  legend: {
    data: seriesNames, orient: 'vertical', left: 404, top: 483, selectedMode: false,
    icon: 'rect', itemWidth: 80, itemHeight: 2.5, itemGap: 9, padding: [10, 11, 11, 11],
    backgroundColor: '#ffffff', borderColor: '#404040', borderWidth: 1.2, borderRadius: 0,
    textStyle: {fontFamily: FH, fontSize: 28, color: ML, lineHeight: 28}
  },
  grid, xAxis, yAxis, series
};

const chart = echarts.init(document.getElementById('c'), null, {renderer: 'canvas', width: 2741, height: 1600});
chart.setOption(option);
</script></body></html>
